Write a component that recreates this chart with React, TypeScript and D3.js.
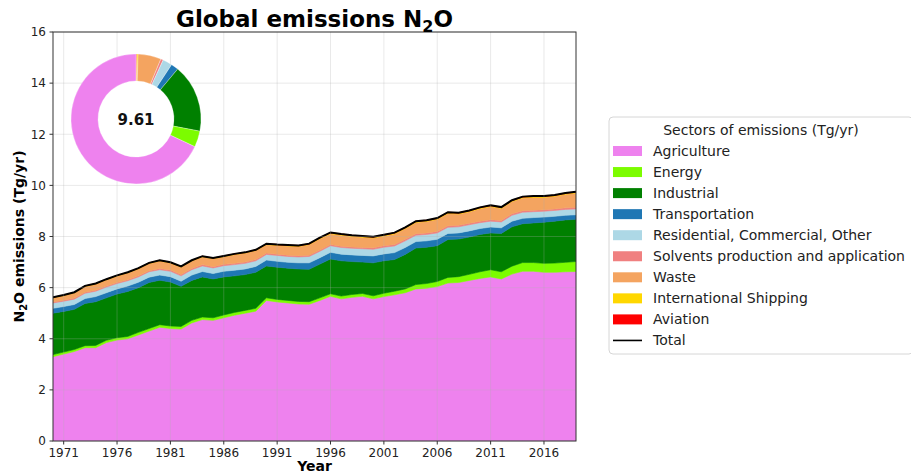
import React from 'react';
import * as d3 from 'd3';

// year axis
const firstYear = 1970;
const lastYear = 2019;
const years = d3.range(firstYear, lastYear + 1);

// N2O emissions by sector, Tg/yr
const agriculture = [3.30, 3.40, 3.50, 3.65, 3.65, 3.85, 3.95, 4.00, 4.15, 4.30, 4.45, 4.40, 4.38, 4.62, 4.75, 4.72, 4.82, 4.92, 5.00, 5.08,
    5.50, 5.44, 5.40, 5.36, 5.35, 5.50, 5.66, 5.56, 5.62, 5.66, 5.56, 5.65, 5.72, 5.80, 5.95, 5.98, 6.04, 6.18, 6.20, 6.28,
    6.36, 6.42, 6.34, 6.53, 6.64, 6.64, 6.60, 6.60, 6.62, 6.63];
const energy = [0.08, 0.08, 0.08, 0.08, 0.09, 0.09, 0.09, 0.09, 0.10, 0.10, 0.10, 0.10, 0.10, 0.10, 0.10, 0.10, 0.11, 0.11, 0.11, 0.11,
    0.10, 0.10, 0.10, 0.10, 0.10, 0.10, 0.10, 0.11, 0.11, 0.11, 0.12, 0.13, 0.14, 0.15, 0.17, 0.18, 0.20, 0.22, 0.23, 0.24,
    0.26, 0.28, 0.28, 0.31, 0.34, 0.34, 0.35, 0.36, 0.37, 0.39];
const industrial = [1.62, 1.59, 1.57, 1.65, 1.71, 1.66, 1.71, 1.76, 1.75, 1.80, 1.74, 1.72, 1.57, 1.56, 1.57, 1.52, 1.49, 1.43, 1.40, 1.41,
    1.25, 1.26, 1.26, 1.27, 1.27, 1.32, 1.36, 1.38, 1.29, 1.23, 1.29, 1.27, 1.24, 1.35, 1.43, 1.42, 1.40, 1.48, 1.47, 1.46,
    1.46, 1.44, 1.50, 1.54, 1.52, 1.55, 1.61, 1.64, 1.66, 1.65];
const transportation = [0.19, 0.19, 0.19, 0.19, 0.20, 0.20, 0.20, 0.21, 0.21, 0.21, 0.20, 0.21, 0.20, 0.21, 0.21, 0.21, 0.22, 0.22, 0.22, 0.23,
    0.23, 0.23, 0.23, 0.24, 0.25, 0.25, 0.26, 0.26, 0.26, 0.26, 0.27, 0.27, 0.27, 0.27, 0.25, 0.25, 0.25, 0.24, 0.24, 0.24,
    0.23, 0.23, 0.22, 0.22, 0.21, 0.21, 0.20, 0.19, 0.18, 0.18];
const residential = [0.21, 0.21, 0.21, 0.21, 0.21, 0.22, 0.21, 0.21, 0.21, 0.21, 0.21, 0.21, 0.21, 0.21, 0.22, 0.22, 0.22, 0.22, 0.22, 0.22,
    0.22, 0.23, 0.23, 0.23, 0.25, 0.25, 0.26, 0.26, 0.26, 0.26, 0.26, 0.26, 0.26, 0.26, 0.25, 0.25, 0.25, 0.24, 0.24, 0.24,
    0.23, 0.23, 0.23, 0.23, 0.24, 0.23, 0.23, 0.23, 0.23, 0.23];
const solvents = [0.04, 0.04, 0.04, 0.04, 0.04, 0.04, 0.04, 0.04, 0.04, 0.04, 0.05, 0.05, 0.05, 0.05, 0.05, 0.05, 0.05, 0.05, 0.05, 0.05,
    0.05, 0.05, 0.05, 0.05, 0.05, 0.05, 0.05, 0.05, 0.05, 0.05, 0.06, 0.06, 0.06, 0.06, 0.06, 0.06, 0.06, 0.06, 0.06, 0.06,
    0.06, 0.06, 0.06, 0.06, 0.06, 0.06, 0.06, 0.06, 0.06, 0.06];
const waste = [0.15, 0.17, 0.20, 0.22, 0.23, 0.24, 0.25, 0.26, 0.27, 0.28, 0.29, 0.27, 0.29, 0.29, 0.30, 0.31, 0.30, 0.34, 0.35, 0.35,
    0.33, 0.34, 0.36, 0.36, 0.41, 0.44, 0.42, 0.43, 0.41, 0.40, 0.38, 0.38, 0.41, 0.42, 0.44, 0.45, 0.47, 0.48, 0.44, 0.45,
    0.49, 0.51, 0.47, 0.48, 0.50, 0.50, 0.48, 0.49, 0.53, 0.56];
const shipping = [0.02, 0.02, 0.02, 0.02, 0.02, 0.02, 0.02, 0.02, 0.02, 0.02, 0.02, 0.02, 0.02, 0.02, 0.02, 0.02, 0.02, 0.02, 0.02, 0.02,
    0.02, 0.02, 0.02, 0.02, 0.02, 0.03, 0.03, 0.03, 0.03, 0.03, 0.03, 0.03, 0.03, 0.03, 0.03, 0.03, 0.03, 0.03, 0.03, 0.03,
    0.03, 0.03, 0.03, 0.03, 0.03, 0.03, 0.03, 0.03, 0.03, 0.03];
const aviation = [0.01, 0.01, 0.01, 0.01, 0.01, 0.01, 0.01, 0.01, 0.01, 0.01, 0.01, 0.01, 0.01, 0.01, 0.01, 0.01, 0.01, 0.01, 0.01, 0.01,
    0.02, 0.02, 0.02, 0.02, 0.02, 0.02, 0.02, 0.02, 0.02, 0.02, 0.02, 0.02, 0.02, 0.02, 0.02, 0.02, 0.02, 0.02, 0.02, 0.02,
    0.02, 0.02, 0.02, 0.02, 0.02, 0.02, 0.02, 0.02, 0.02, 0.02];

const sectors = ['Agriculture', 'Energy', 'Industrial', 'Transportation', 'Residential, Commercial, Other',
    'Solvents production and application', 'Waste', 'International Shipping', 'Aviation'];
const sectorValues = [agriculture, energy, industrial, transportation, residential, solvents, waste, shipping, aviation];
const sectorColors = ['#ee82ee', '#7cfc00', '#008000', '#1f77b4', '#add8e6', '#f08080', '#f4a460', '#ffd700', '#ff0000'];

const xTicks = [1971, 1976, 1981, 1986, 1991, 1996, 2001, 2006, 2011, 2016];
const yTicks = [0, 2, 4, 6, 8, 10, 12, 14, 16];
const donutLabel = '9.61';

const font = 'DejaVu Sans, sans-serif';

const App: React.FC = () => {
    const plot = { left: 53, right: 576, top: 32, bottom: 441 };

    const x = d3.scaleLinear().domain([firstYear, lastYear]).range([plot.left, plot.right]);
    const y = d3.scaleLinear().domain([0, 16]).range([plot.bottom, plot.top]);

    const rows = years.map((yr, i) => {
        const r: any = { year: yr };
        sectors.forEach((s, k) => { r[s] = sectorValues[k][i]; });
        return r;
    });
    const stacked = d3.stack<any>().keys(sectors)(rows);
    const area = d3.area<any>()
        .x(d => x(d.data.year))
        .y0(d => y(d[0]))
        .y1(d => y(d[1]));

    const totals = years.map((_, i) => d3.sum(sectorValues, s => s[i]));
    const totalLine = d3.line<number>()
        .x((_, i) => x(years[i]))
        .y(d => y(d));

    // donut of the last year, clockwise from 12 o'clock starting with aviation
    const last = years.length - 1;
    const donutData = sectors.map((s, k) => ({ name: s, color: sectorColors[k], v: sectorValues[k][last] })).reverse();
    const pie = d3.pie<any>().sort(null).value(d => d.v);
    const arcs = pie(donutData);
    const arc = d3.arc<any>().innerRadius(38).outerRadius(65);
    const donutCx = 136, donutCy = 119;

    const legendX = 609, legendY = 117;
    const rowH = 21.05;

    return (
        <svg width={911} height={474} style={{ position: 'absolute', left: 0, top: 0, background: '#fff' }} fontFamily={font}>
            <defs>
                <clipPath id="plotClip">
                    <rect x={plot.left} y={plot.top} width={plot.right - plot.left} height={plot.bottom - plot.top} />
                </clipPath>
            </defs>

            {/* stacked areas */}
            <g clipPath="url(#plotClip)">
                {stacked.map((s, k) => (
                    <path key={s.key} d={area(s) ?? ''} fill={sectorColors[k]} stroke={sectorColors[k]} strokeWidth={0.6} />
                ))}
                <path d={totalLine(totals) ?? ''} fill="none" stroke="#000" strokeWidth={2} />
            </g>

            {/* grid */}
            <g stroke="#b0b0b0" strokeOpacity={0.35} strokeWidth={0.8}>
                {xTicks.map(t => <line key={'gx' + t} x1={x(t)} x2={x(t)} y1={plot.top} y2={plot.bottom} />)}
                {yTicks.map(t => <line key={'gy' + t} x1={plot.left} x2={plot.right} y1={y(t)} y2={y(t)} />)}
            </g>

            {/* donut */}
            <g transform={`translate(${donutCx},${donutCy})`}>
                <circle r={38} fill="#fff" />
                {arcs.map(a => (
                    <path key={a.data.name} d={arc(a) ?? ''} fill={a.data.color} stroke="#fff" strokeWidth={0.3} />
                ))}
                <text y={6} textAnchor="middle" fontSize={15} fontWeight="bold" fill="#111">{donutLabel}</text>
            </g>

            {/* frame */}
            <rect x={plot.left} y={plot.top} width={plot.right - plot.left} height={plot.bottom - plot.top}
                fill="none" stroke="#333" strokeWidth={1} />

            {/* axes ticks */}
            <g fontSize={12} fill="#222">
                {xTicks.map(t => (
                    <g key={'tx' + t}>
                        <line x1={x(t)} x2={x(t)} y1={plot.bottom} y2={plot.bottom + 3.5} stroke="#333" />
                        <text x={x(t)} y={plot.bottom + 15.5} textAnchor="middle">{t}</text>
                    </g>
                ))}
                {yTicks.map(t => (
                    <g key={'ty' + t}>
                        <line x1={plot.left - 3.5} x2={plot.left} y1={y(t)} y2={y(t)} stroke="#333" />
                        <text x={plot.left - 7} y={y(t) + 4.3} textAnchor="end">{t}</text>
                    </g>
                ))}
            </g>

            {/* title and axis labels */}
            <text x={(plot.left + plot.right) / 2} y={27} textAnchor="middle" fontSize={23} fontWeight="bold" fill="#000">
                Global emissions N<tspan fontSize={16} dy={5}>2</tspan><tspan dy={-5}>O</tspan>
            </text>
            <text x={(plot.left + plot.right) / 2} y={471} textAnchor="middle" fontSize={14} fontWeight="bold" fill="#000">Year</text>
            <text transform={`translate(24,${(plot.top + plot.bottom) / 2}) rotate(-90)`} textAnchor="middle" fontSize={14} fontWeight="bold" fill="#000">
                N<tspan fontSize={10} dy={3}>2</tspan><tspan dy={-3}>O emissions (Tg/yr)</tspan>
            </text>

            {/* legend */}
            <rect x={legendX} y={legendY} width={304} height={237} rx={4} fill="#fff" stroke="#d6d6d6" strokeWidth={1} />
            <text x={legendX + 152} y={legendY + 18} textAnchor="middle" fontSize={14} fill="#222">Sectors of emissions (Tg/yr)</text>
            {sectors.map((s, k) => {
                const cy = legendY + 34 + k * rowH;
                return (
                    <g key={'lg' + s}>
                        <rect x={legendX + 4} y={cy - 5} width={29} height={10} fill={sectorColors[k]} />
                        <text x={legendX + 44} y={cy + 5} fontSize={14} fill="#222">{s}</text>
                    </g>
                );
            })}
            <line x1={legendX + 4} x2={legendX + 33} y1={legendY + 34 + 9 * rowH} y2={legendY + 34 + 9 * rowH} stroke="#000" strokeWidth={1.6} />
            <text x={legendX + 44} y={legendY + 34 + 9 * rowH + 5} fontSize={14} fill="#222">Total</text>
        </svg>
    );
};

export default App;
